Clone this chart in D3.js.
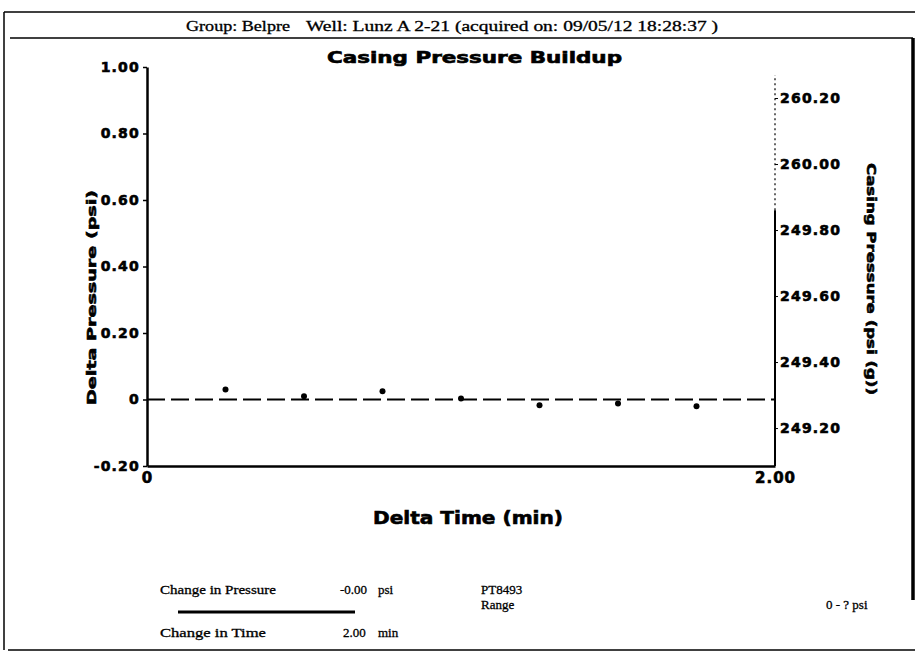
<!DOCTYPE html>
<html>
<head>
<meta charset="utf-8">
<script src="https://cdn.jsdelivr.net/npm/d3@7"></script>
<style>
  body { margin: 0; background: #fff; }
  svg { display: block; }
  .axis-label { font-family: "DejaVu Sans", sans-serif; font-weight: bold; fill: #000; stroke: #000; stroke-width: 0.6; }
  .serif { font-family: "Liberation Serif", "Times New Roman", serif; fill: #000; stroke: #000; stroke-width: 0.3; }
</style>
</head>
<body>
<div id="chart-container"></div>
<script>
// Data
const deltaTime = [0.25, 0.5, 0.75, 1.0, 1.25, 1.5, 1.75]
const deltaPressure = [0.030, 0.010, 0.025, 0.003, -0.017, -0.012, -0.020]

const xTicks = [0, 2]
const xTickLabels = ['0', '2.00']
const leftTicks = [-0.2, 0, 0.2, 0.4, 0.6, 0.8, 1.0]
const leftTickLabels = ['-0.20', '0', '0.20', '0.40', '0.60', '0.80', '1.00']
const rightTicks = [249.2, 249.4, 249.6, 249.8, 250.0, 250.2]
const rightTickLabels = ['249.20', '249.40', '249.60', '249.80', '260.00', '260.20']

const width = 920
const height = 660
const plot = { left: 147, right: 775, top: 67, bottom: 466 }

const svg = d3.select('#chart-container')
    .append('svg')
    .attr('width', width)
    .attr('height', height)

const xScale = d3.scaleLinear().domain([0, 2]).range([plot.left, plot.right])
const yScale = d3.scaleLinear().domain([-0.2, 1.0]).range([plot.bottom, plot.top])
const yRight = d3.scaleLinear().domain([249.085, 250.294]).range([plot.bottom, plot.top])

// Page frame (scanned report borders)
const frame = svg.append('g').attr('stroke', '#000').attr('fill', 'none')
frame.append('line').attr('x1', 4).attr('x2', 915).attr('y1', 12).attr('y2', 12).attr('stroke-width', 1.5)
frame.append('line').attr('x1', 4).attr('x2', 4).attr('y1', 12).attr('y2', 650).attr('stroke-width', 1.5)
frame.append('line').attr('x1', 10).attr('x2', 913).attr('y1', 38).attr('y2', 38).attr('stroke-width', 1.5)
frame.append('line').attr('x1', 913).attr('x2', 913).attr('y1', 38).attr('y2', 600).attr('stroke-width', 3.5)
frame.append('line').attr('x1', 8).attr('x2', 915).attr('y1', 650).attr('y2', 650).attr('stroke-width', 1.5)

// Header
svg.append('text').attr('class', 'serif')
    .attr('x', 186).attr('y', 31)
    .attr('font-size', 14)
    .attr('textLength', 104).attr('lengthAdjust', 'spacingAndGlyphs')
    .text('Group: Belpre')
svg.append('text').attr('class', 'serif')
    .attr('x', 306).attr('y', 31)
    .attr('font-size', 14)
    .attr('textLength', 412).attr('lengthAdjust', 'spacingAndGlyphs')
    .text('Well: Lunz A 2-21 (acquired on: 09/05/12 18:28:37 )')

// Title
svg.append('text').attr('class', 'axis-label')
    .attr('x', 327).attr('y', 63)
    .attr('font-size', 15)
    .attr('textLength', 295).attr('lengthAdjust', 'spacingAndGlyphs')
    .text('Casing Pressure Buildup')

// Left axis
const leftAxis = d3.axisLeft(yScale)
    .tickValues(leftTicks)
    .tickFormat((d, i) => leftTickLabels[i])
    .tickSize(4)
    .tickSizeOuter(0)
const gLeft = svg.append('g')
    .attr('transform', 'translate(' + plot.left + ',0)')
    .call(leftAxis)
gLeft.select('.domain').attr('stroke-width', 2.5)
gLeft.selectAll('.tick line').attr('stroke-width', 1.5)
gLeft.selectAll('.tick text')
    .attr('class', 'axis-label')
    .attr('font-size', 14)
    .attr('letter-spacing', 1.2)
    .attr('x', -7)

// Bottom axis
const xAxis = d3.axisBottom(xScale)
    .tickValues(xTicks)
    .tickFormat((d, i) => xTickLabels[i])
    .tickSize(0)
    .tickSizeOuter(0)
const gX = svg.append('g')
    .attr('transform', 'translate(0,' + plot.bottom + ')')
    .call(xAxis)
gX.select('.domain').attr('stroke-width', 2.5)
gX.selectAll('.tick text')
    .attr('class', 'axis-label')
    .attr('font-size', 15)
    .attr('letter-spacing', 1)
    .attr('y', 6)

// Right axis: solid lower part, dotted upper part
const rightAxis = d3.axisRight(yRight)
    .tickValues(rightTicks)
    .tickFormat((d, i) => rightTickLabels[i])
    .tickSize(3)
    .tickSizeOuter(0)
const gRight = svg.append('g')
    .attr('transform', 'translate(' + plot.right + ',0)')
    .call(rightAxis)
gRight.select('.domain').remove()
gRight.append('line')
    .attr('y1', yRight.range()[0]).attr('y2', yRight(249.86))
    .attr('stroke', '#000').attr('stroke-width', 2)
gRight.append('line')
    .attr('y1', yRight(249.86)).attr('y2', yRight(250.27))
    .attr('stroke', '#000').attr('stroke-width', 1.2)
    .attr('stroke-dasharray', '2,3')
gRight.selectAll('.tick text')
    .attr('class', 'axis-label')
    .attr('font-size', 14)
    .attr('letter-spacing', 1.2)
    .attr('x', 5)

// Axis titles
svg.append('text').attr('class', 'axis-label')
    .attr('transform', 'translate(96,405) rotate(-90)')
    .attr('font-size', 13)
    .attr('textLength', 215).attr('lengthAdjust', 'spacingAndGlyphs')
    .text('Delta Pressure (psi)')
svg.append('text').attr('class', 'axis-label')
    .attr('transform', 'translate(867,163) rotate(90)')
    .attr('font-size', 13)
    .attr('textLength', 232).attr('lengthAdjust', 'spacingAndGlyphs')
    .text('Casing Pressure (psi (g))')
svg.append('text').attr('class', 'axis-label')
    .attr('x', 373).attr('y', 524)
    .attr('font-size', 17)
    .attr('textLength', 190).attr('lengthAdjust', 'spacingAndGlyphs')
    .text('Delta Time (min)')

// Zero reference line (dashed)
svg.append('path')
    .datum(xScale.domain())
    .attr('d', d3.line().x(d => xScale(d)).y(() => yScale(0)))
    .attr('fill', 'none')
    .attr('stroke', '#000')
    .attr('stroke-width', 1.8)
    .attr('stroke-dasharray', '18,6')

// Points
svg.selectAll('circle.dot')
    .data(deltaTime)
    .enter()
    .append('circle')
    .attr('class', 'dot')
    .attr('cx', d => xScale(d))
    .attr('cy', (d, i) => yScale(deltaPressure[i]))
    .attr('r', 3)
    .attr('fill', '#000')

// Footer summary
const footer = svg.append('g').attr('class', 'serif').attr('font-size', 13)
footer.append('text').attr('x', 160).attr('y', 594).attr('textLength', 116).attr('lengthAdjust', 'spacingAndGlyphs').text('Change in Pressure')
footer.append('text').attr('x', 340).attr('y', 594).text('-0.00')
footer.append('text').attr('x', 378).attr('y', 594).text('psi')
footer.append('text').attr('x', 160).attr('y', 637).attr('textLength', 106).attr('lengthAdjust', 'spacingAndGlyphs').text('Change in Time')
footer.append('text').attr('x', 343).attr('y', 637).text('2.00')
footer.append('text').attr('x', 378).attr('y', 637).text('min')
footer.append('text').attr('x', 481).attr('y', 594).text('PT8493')
footer.append('text').attr('x', 481).attr('y', 609).text('Range')
footer.append('text').attr('x', 826).attr('y', 609).text('0 - ?   psi')
svg.append('line')
    .attr('x1', 178).attr('x2', 355).attr('y1', 612).attr('y2', 612)
    .attr('stroke', '#000').attr('stroke-width', 3)
</script>
</body>
</html>
